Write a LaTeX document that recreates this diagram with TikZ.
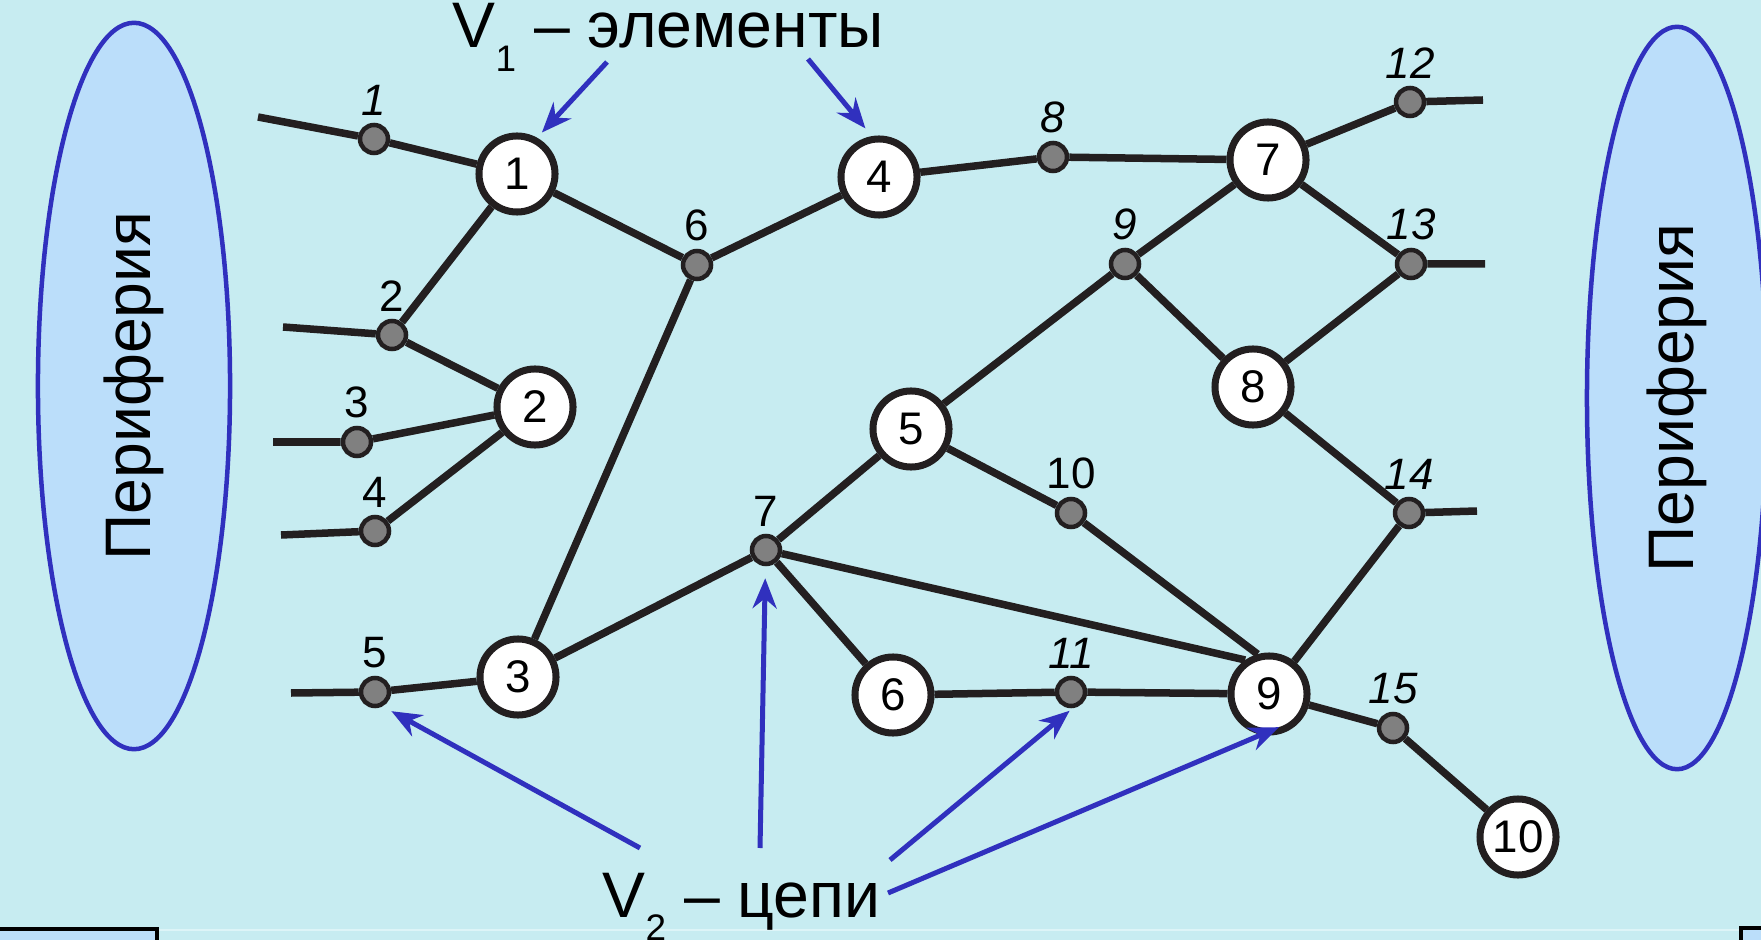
\documentclass[tikz,border=0pt]{standalone}
\usepackage{fontspec}
\setmainfont{Liberation Sans}
\usetikzlibrary{arrows.meta,shapes.geometric}

\definecolor{slide}{RGB}{199,236,241}
\definecolor{periph}{RGB}{187,222,250}
\definecolor{navy}{RGB}{48,48,190}
\definecolor{ink}{RGB}{35,31,32}
\definecolor{dotgray}{RGB}{128,128,128}
\newcommand{\slidefont}{\fontsize{18.3}{21}\selectfont}
\newcommand{\subfont}{\fontsize{10.5}{10.5}\selectfont}

\begin{document}
\begin{tikzpicture}[x=0.01cm,y=-0.01cm,
    elem/.style={circle,draw=ink,line width=0.07cm,fill=white,minimum size=0.76cm,
      inner sep=0pt,font=\fontsize{13}{13}\selectfont},
    net/.style={circle,draw=ink,line width=0.045cm,fill=dotgray,minimum size=0.28cm,
      inner sep=0pt,label={[label distance=-0.05cm,font=\fontsize{12.5}{13}\selectfont]above:#1}},
    wire/.style={draw=ink,line width=0.075cm},
    periphery/.style={ellipse,draw=navy,line width=0.045cm,fill=periph,rotate=90,
      inner sep=0pt,font=\slidefont},
    pointer/.style={navy,line width=0.05cm,-{Stealth[length=0.3cm,width=0.24cm]}}]
\useasboundingbox (0,0) rectangle (1761,940);
\fill[slide] (0,0) rectangle (1761,940);
\draw[slide!60!white,line width=0.02cm] (157,930) -- (1741,930);
\draw[black,line width=0.04cm,fill=periph] (-20,929) rectangle (157,990);
\draw[black,line width=0.04cm,fill=periph] (1741,928) rectangle (1800,990);

\node[periphery,minimum width=7.26cm,minimum height=1.92cm] (PL) at (134,386) {Периферия};
\node[periphery,minimum width=7.42cm,minimum height=1.8cm] (PR) at (1677,398) {Периферия};

\node[elem] (E1) at (517,174) {1};
\node[elem] (E2) at (535,407) {2};
\node[elem] (E3) at (518,677) {3};
\node[elem] (E4) at (879,177) {4};
\node[elem] (E5) at (911,429) {5};
\node[elem] (E6) at (893,695) {6};
\node[elem] (E7) at (1268,160) {7};
\node[elem] (E8) at (1253,387) {8};
\node[elem] (E9) at (1269,694) {9};
\node[elem] (E10) at (1518,837) {10};

\node[net={\itshape 1}] (C1) at (374,139) {};
\node[net=2] (C2) at (392,335) {};
\node[net=3] (C3) at (357,442) {};
\node[net=4] (C4) at (375,531) {};
\node[net=5] (C5) at (375,692) {};
\node[net=6] (C6) at (697,265) {};
\node[net=7] (C7) at (766,550) {};
\node[net={\itshape 8}] (C8) at (1053,157) {};
\node[net={\itshape 9}] (C9) at (1125,264) {};
\node[net=10] (C10) at (1071,513) {};
\node[net={\itshape 11}] (C11) at (1071,692) {};
\node[net={\itshape 12}] (C12) at (1410,102) {};
\node[net={\itshape 13}] (C13) at (1411,264) {};
\node[net={\itshape 14}] (C14) at (1409,513) {};
\node[net={\itshape 15}] (C15) at (1393,728) {};

% loose ends towards the periphery
\coordinate (S1) at (258,117);
\coordinate (S2) at (283,327);
\coordinate (S3) at (273,442);
\coordinate (S4) at (281,535);
\coordinate (S5) at (291,693);
\coordinate (S12) at (1483,100);
\coordinate (S13) at (1485,264);
\coordinate (S14) at (1477,511);

\draw[wire] (S1) -- (C1) -- (E1) -- (C6) -- (E4) -- (C8) -- (E7) -- (C12) -- (S12);
\draw[wire] (S2) -- (C2) -- (E2);
\draw[wire] (E1) -- (C2);
\draw[wire] (S3) -- (C3) -- (E2) -- (C4) -- (S4);
\draw[wire] (S5) -- (C5) -- (E3) -- (C6);
\draw[wire] (E3) -- (C7) -- (E5) -- (C9) -- (E7) -- (C13) -- (S13);
\draw[wire] (C9) -- (E8) -- (C13);
\draw[wire] (E8) -- (C14) -- (S14);
\draw[wire] (C14) -- (E9) -- (C15) -- (E10);
\draw[wire] (E5) -- (C10) -- (E9.106);
\draw[wire] (C7) -- (E9.125);
\draw[wire] (C7) -- (E6) -- (C11) -- (E9);

\node[anchor=base west,inner sep=0pt,font=\slidefont] (V1) at (452,48)
  {V\raisebox{-6.8pt}{\subfont 1} – элементы};
\node[anchor=base west,inner sep=0pt,font=\slidefont] (V2) at (602,917)
  {V\raisebox{-6.8pt}{\subfont 2} – цепи};

\coordinate (P1) at (607,62);
\coordinate (P4) at (808,59);
\coordinate (Q5) at (640,848);
\coordinate (Q7) at (760,848);
\coordinate (Q11) at (890,860);
\coordinate (Q9) at (888,893);

\draw[pointer,shorten >=0.07cm] (P1) -- (E1.61);
\draw[pointer,shorten >=0.1cm] (P4) -- (E4.100);
\draw[pointer,shorten >=0.1cm] (Q5) -- (C5.-62);
\draw[pointer,shorten >=0.12cm] (Q7) -- (C7.-92);
\draw[pointer,shorten >=0.04cm] (Q11) -- (C11.-84);
\draw[pointer,shorten >=0.27cm] (Q9) -- (E9.-33);
\end{tikzpicture}
\end{document}
